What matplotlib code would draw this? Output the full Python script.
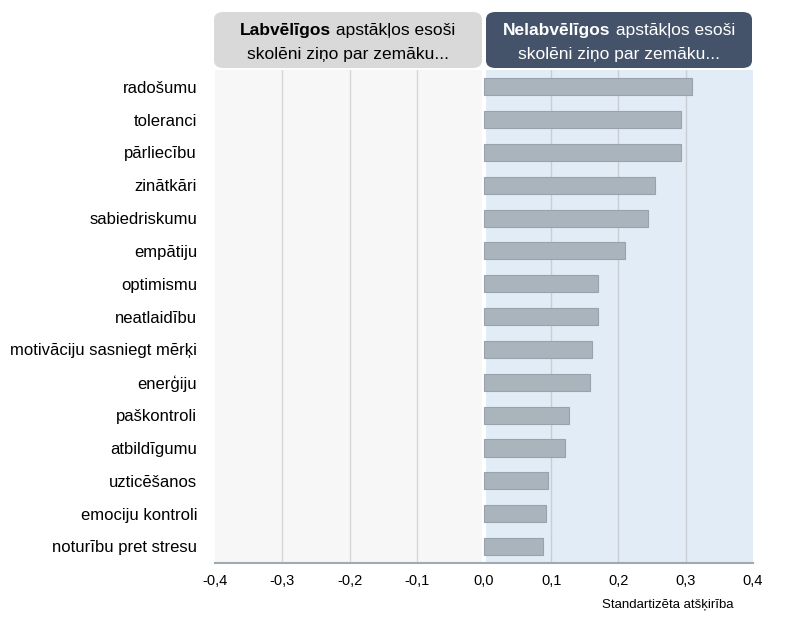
import matplotlib.pyplot as plt
from matplotlib.patches import FancyBboxPatch, Rectangle

plt.rcParams['font.family'] = ['Liberation Sans', 'DejaVu Sans']

categories = ['radošumu', 'toleranci', 'pārliecību', 'zinātkāri', 'sabiedriskumu',
              'empātiju', 'optimismu', 'neatlaidību', 'motivāciju sasniegt mērķi',
              'enerģiju', 'paškontroli', 'atbildīgumu', 'uzticēšanos',
              'emociju kontroli', 'noturību pret stresu']
values = [0.310, 0.293, 0.293, 0.255, 0.244, 0.210, 0.170, 0.170, 0.161,
          0.157, 0.126, 0.121, 0.095, 0.093, 0.088]
xticks = [-0.4, -0.3, -0.2, -0.1, 0.0, 0.1, 0.2, 0.3, 0.4]
xticklabels = ['-0,4', '-0,3', '-0,2', '-0,1', '0,0', '0,1', '0,2', '0,3', '0,4']

fig = plt.figure(figsize=(8, 6.22), dpi=100)
ax = fig.add_axes([0.269, 0.095, 0.672, 0.792])

# background halves
ax.add_patch(Rectangle((-0.4, -0.5), 0.4, 15, facecolor='#f7f7f7', edgecolor='none', zorder=0))
ax.add_patch(Rectangle((0.0, -0.5), 0.4, 15, facecolor='#e1ecf6', edgecolor='none', zorder=0))
for x in xticks[1:-1]:
    if x == 0:
        continue
    ax.axvline(x, color='#c8ced4' if x > 0 else '#d6d6d6', lw=1, zorder=1)
ax.axvline(0.0, color='white', lw=3, zorder=1)

y = list(range(len(categories)))
ax.barh(y, values, height=0.52, color='#a9b4bd', edgecolor='#97a2ac', lw=0.8, zorder=2)

ax.set_xlim(-0.4, 0.4)
ax.set_ylim(len(categories) - 0.5, -0.5)
ax.set_yticks(y)
ax.set_yticklabels(categories, fontsize=12)
ax.set_xticks(xticks)
ax.set_xticklabels(xticklabels, fontsize=10.5)
ax.tick_params(axis='y', length=0, pad=13)
ax.tick_params(axis='x', length=0, pad=8)
for s in ['top', 'left', 'right']:
    ax.spines[s].set_visible(False)
ax.spines['bottom'].set_color('#a0a8b0')
ax.spines['bottom'].set_linewidth(1.5)

fig.text(733 / 800, 1 - 605 / 622, 'Standartizēta atšķirība', fontsize=9.5,
         ha='right', va='center')

# header boxes
r = fig.canvas.get_renderer()
for x0, x1, fc, tc, bold in [(214, 482, '#d9d9d9', 'black', 'Labvēlīgos'),
                              (486, 752, '#44536a', 'white', 'Nelabvēlīgos')]:
    w = (x1 - x0) / 800
    box = FancyBboxPatch((x0 / 800, 1 - 68 / 622), w, 56 / 622,
                         boxstyle='round,pad=0,rounding_size=0.012',
                         transform=fig.transFigure, facecolor=fc, edgecolor='none')
    fig.patches.append(box)
    cx = (x0 + x1) / 2 / 800
    line1_rest = ' apstākļos esoši'
    # measure widths for mixed-weight first line
    tb = fig.text(0, 0, bold, fontsize=12.5, fontweight='bold')
    tr = fig.text(0, 0, line1_rest, fontsize=12.5)
    wb = tb.get_window_extent(r).width / 800
    wr = tr.get_window_extent(r).width / 800
    tb.remove()
    tr.remove()
    start = cx - (wb + wr) / 2
    fig.text(start, 1 - 31 / 622, bold, fontsize=12.5, fontweight='bold', color=tc,
             ha='left', va='center')
    fig.text(start + wb, 1 - 31 / 622, line1_rest, fontsize=12.5, color=tc,
             ha='left', va='center')
    fig.text(cx, 1 - 54 / 622, 'skolēni ziņo par zemāku...', fontsize=12.5, color=tc,
             ha='center', va='center')

fig.savefig('out.png', dpi=100)
